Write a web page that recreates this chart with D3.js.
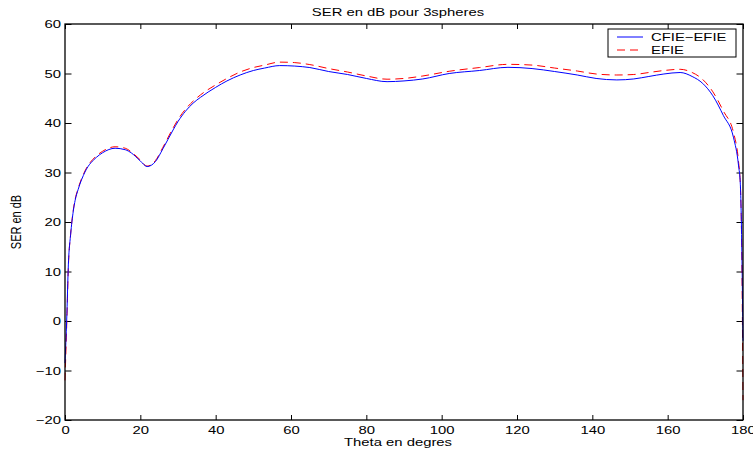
<!DOCTYPE html>
<html>
<head>
<meta charset="utf-8">
<script src="https://cdn.jsdelivr.net/npm/d3@7"></script>
<style>
  body { margin: 0; background: #fff; }
  text { font-family: 'Liberation Sans', Arial, Helvetica, sans-serif; }
</style>
</head>
<body>
<div id="chart-container"></div>
<script>
// angle in degrees
const theta = [0, 0.45, 0.9, 1.5, 2.2, 2.7, 3.5, 5.3, 8.4, 10, 13.3, 16, 17.7, 19.9, 21.8, 24, 26, 28.7, 30, 32, 34, 36, 40, 43, 46.5, 50, 53, 57, 61, 65, 70, 75, 80, 85.5, 90, 95, 102, 110, 117.6, 124, 130, 136, 141, 146.5, 151, 155, 159, 163.3, 166.5, 169.3, 172, 174.8, 177.5, 178.8, 179.3, 179.7, 180]

// SER (dB), CFIE-EFIE
const serCfie = [-8.5, 0.2, 11.5, 17.5, 22.2, 24.4, 26.6, 30.1, 33.1, 34.0, 34.9, 34.6, 33.9, 32.4, 31.2, 32.2, 34.8, 38.6, 40.3, 42.4, 44.0, 45.2, 47.2, 48.5, 49.7, 50.6, 51.1, 51.6, 51.5, 51.2, 50.4, 49.8, 49.0, 48.35, 48.5, 48.9, 50.0, 50.6, 51.25, 51.0, 50.4, 49.7, 49.0, 48.7, 48.9, 49.4, 49.9, 50.2, 49.4, 48.0, 45.5, 41.5, 37.0, 31.5, 27.5, 14, -4]

// SER (dB), EFIE
const serEfie = [-12, -1, 11, 17.6, 22.4, 24.6, 26.8, 30.3, 33.4, 34.3, 35.2, 34.9, 34.1, 32.6, 31.3, 32.4, 35.1, 39.0, 40.7, 42.8, 44.4, 45.7, 47.7, 49.0, 50.3, 51.2, 51.7, 52.3, 52.2, 51.8, 51.0, 50.3, 49.5, 48.85, 49.0, 49.5, 50.45, 51.2, 51.85, 51.7, 51.1, 50.5, 49.9, 49.7, 49.8, 50.2, 50.6, 50.85, 50.2, 48.8, 46.3, 42.4, 38.0, 32.3, 27.5, 12, -16]

const xTicks = [0, 20, 40, 60, 80, 100, 120, 140, 160, 180]
const yTicks = [-20, -10, 0, 10, 20, 30, 40, 50, 60]

const seriesNames = ['CFIE\u2212EFIE', 'EFIE']

const width = 753
const height = 451
const marginTop = 24
const marginLeft = 65
const plotWidth = 678
const plotHeight = 396

// text in the reference is stretched horizontally
const stretch = 1.35
const fontSize = 11
const labelCenterX = 398

const svg = d3
  .select('#chart-container')
  .append('svg')
  .attr('width', width)
  .attr('height', height)

const x = d3.scaleLinear().domain([0, 180]).range([0, plotWidth])
const y = d3.scaleLinear().domain([-20, 60]).range([plotHeight, 0])

const g = svg
  .append('g')
  .attr('transform', `translate(${marginLeft},${marginTop})`)

// axes: ticks inside the box, on all four sides
const fmt = d3.format('')

const bottomAxis = g
  .append('g')
  .attr('transform', `translate(0,${plotHeight})`)
  .call(d3.axisBottom(x).tickValues(xTicks).tickFormat(fmt).tickSizeInner(-5).tickSizeOuter(0).tickPadding(6))
const topAxis = g
  .append('g')
  .call(d3.axisTop(x).tickValues(xTicks).tickFormat('').tickSizeInner(-5).tickSizeOuter(0))
const leftAxis = g
  .append('g')
  .call(d3.axisLeft(y).tickValues(yTicks).tickFormat(fmt).tickSizeInner(-6.5).tickSizeOuter(0).tickPadding(4))
const rightAxis = g
  .append('g')
  .attr('transform', `translate(${plotWidth},0)`)
  .call(d3.axisRight(y).tickValues(yTicks).tickFormat('').tickSizeInner(-6.5).tickSizeOuter(0))

;[bottomAxis, topAxis, leftAxis, rightAxis].forEach(a => {
  a.select('.domain').remove()
  a.selectAll('line').attr('stroke', '#000').attr('stroke-width', 1)
  a.selectAll('text').attr('fill', '#000').attr('font-size', fontSize).attr('font-family', null)
})

bottomAxis.selectAll('text').attr('transform', `scale(${stretch},1)`)
leftAxis
  .selectAll('text')
  .attr('x', -4 / stretch)
  .attr('transform', `scale(${stretch},1)`)

// curves
const line = d3
  .line()
  .x((d, i) => x(theta[i]))
  .y(d => y(d))
  .curve(d3.curveMonotoneX)

g.append('path')
  .attr('fill', 'none')
  .attr('stroke', '#ff0000')
  .attr('stroke-width', 1)
  .attr('stroke-dasharray', '8,5')
  .attr('d', line(serEfie))

g.append('path')
  .attr('fill', 'none')
  .attr('stroke', '#0000ff')
  .attr('stroke-width', 1)
  .attr('d', line(serCfie))

// box
g.append('rect')
  .attr('width', plotWidth)
  .attr('height', plotHeight)
  .attr('fill', 'none')
  .attr('stroke', '#000')
  .attr('stroke-width', 1.3)

// title & labels
svg
  .append('text')
  .attr('transform', `translate(${labelCenterX},16) scale(${stretch},1)`)
  .attr('text-anchor', 'middle')
  .attr('font-size', fontSize)
  .text('SER en dB pour 3spheres')

svg
  .append('text')
  .attr('transform', `translate(${labelCenterX},446) scale(${stretch},1)`)
  .attr('text-anchor', 'middle')
  .attr('font-size', fontSize)
  .text('Theta en degres')

svg
  .append('text')
  .attr('transform', `translate(21,${marginTop + plotHeight / 2}) rotate(-90) scale(1,${stretch})`)
  .attr('text-anchor', 'middle')
  .attr('font-size', fontSize)
  .text('SER en dB')

// legend
const legend = svg.append('g').attr('transform', 'translate(608,29)')

legend
  .append('rect')
  .attr('width', 128)
  .attr('height', 28)
  .attr('fill', '#fff')
  .attr('stroke', '#000')
  .attr('stroke-width', 1)

const legendColors = ['#0000ff', '#ff0000']
const legendDash = [null, '8,5']

seriesNames.forEach((name, i) => {
  const ly = 8 + i * 13
  legend
    .append('line')
    .attr('x1', 9)
    .attr('x2', 35)
    .attr('y1', ly)
    .attr('y2', ly)
    .attr('stroke', legendColors[i])
    .attr('stroke-width', 1)
    .attr('stroke-dasharray', legendDash[i])
  legend
    .append('text')
    .attr('transform', `translate(43,${ly + 4}) scale(${stretch},1)`)
    .attr('font-size', fontSize)
    .text(name)
})
</script>
</body>
</html>
